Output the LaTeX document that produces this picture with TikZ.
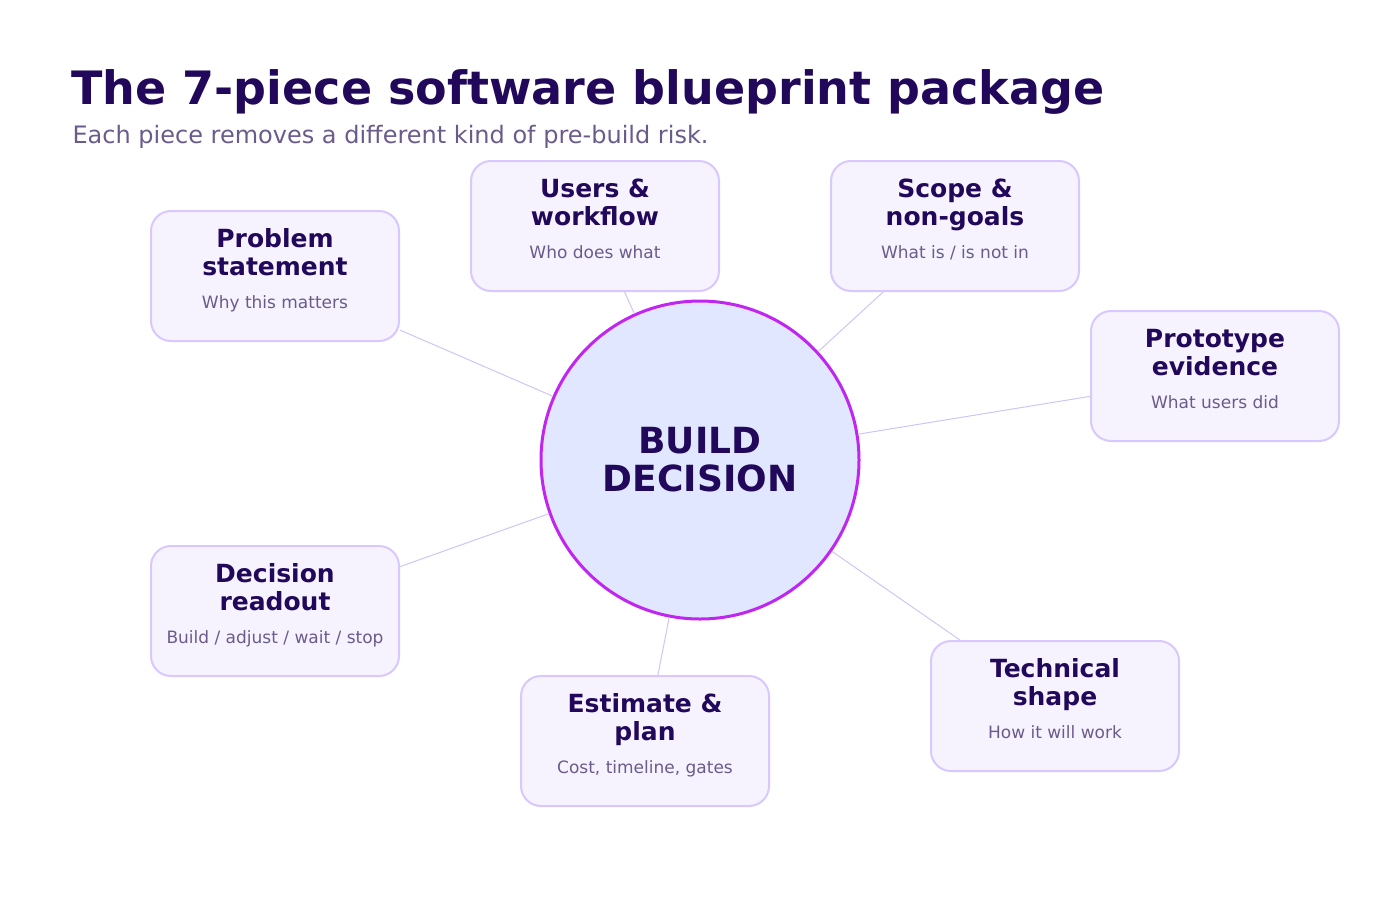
\documentclass[tikz,border=0pt]{standalone}
\usepackage{fontspec}
\setmainfont{DejaVu Sans}
\begin{document}
\definecolor{ink}{HTML}{22085A}
\definecolor{sub}{HTML}{6B5B8B}
\definecolor{bfill}{HTML}{F6F3FF}
\definecolor{bline}{HTML}{D9C8FF}
\definecolor{cfill}{HTML}{E0E7FF}
\definecolor{cline}{HTML}{C026F0}
\definecolor{link}{HTML}{D0C4F4}
\begin{tikzpicture}[x=1pt,y=-1pt,
 box/.style={draw=bline,line width=2pt,fill=bfill,rounded corners=20pt,minimum width=248pt,minimum height=130pt,inner sep=0pt},
 ttl/.style={font=\fontsize{25}{28}\selectfont\bfseries,text=ink,align=center,anchor=base},
 sbt/.style={font=\fontsize{17}{19}\selectfont,text=sub,anchor=base},
 lk/.style={draw=link,line width=1pt}]
\useasboundingbox (0,0) rectangle (1400,900);
\node[anchor=base west,font=\fontsize{46}{52}\selectfont\bfseries,text=ink] (title) at (68,104) {The 7-piece software blueprint package};
\node[anchor=base west,font=\fontsize{24}{28}\selectfont,text=sub] (subtitle) at (69,143) {Each piece removes a different kind of pre-build risk.};
\node[circle,draw=cline,line width=3pt,fill=cfill,minimum size=318pt,inner sep=0pt] (c) at (700,460) {};
\node[font=\fontsize{36}{38}\selectfont\bfseries,text=ink,align=center] (ct) at (700,460) {BUILD\\DECISION};
\foreach \n/\cx/\cy/\t/\s in {
 p/275/276/{Problem\\statement}/{Why this matters},
 u/595/226/{Users \&\\workflow}/{Who does what},
 g/955/226/{Scope \&\\non-goals}/{What is / is not in},
 e/1215/376/{Prototype\\evidence}/{What users did},
 d/275/611/{Decision\\readout}/{Build / adjust / wait / stop},
 s/645/741/{Estimate \&\\plan}/{Cost, timeline, gates},
 t/1055/706/{Technical\\shape}/{How it will work}}{
 \node[box] (\n) at (\cx,\cy) {};
 \node[ttl] (\n t) at (\cx,\cy-1) {\t};
 \node[sbt] (\n s) at (\cx,\cy+32) {\s};
 \draw[lk] (c) -- (\n);
}
\end{tikzpicture}
\end{document}
